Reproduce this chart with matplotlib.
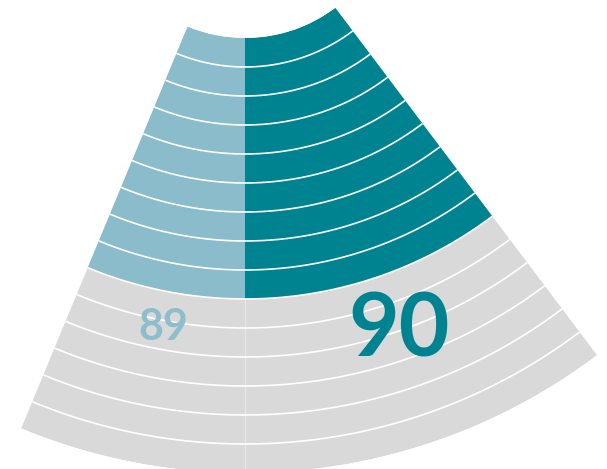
import numpy as np
import matplotlib
matplotlib.use('Agg')
import matplotlib.pyplot as plt

# === DATA ===
labels = ['89', '90']
label_colors = ['#8abccb', '#008391']
theta_spans = [(-22.5, 0.0), (0.0, 37.0)]   # degrees from the downward axis
filled_rings = [9, 9]
total_rings = 15

grey = '#d9d9d9'

# === GEOMETRY (pixels) ===
W, H = 607, 469
cx, cy = 245, -112        # centre of the fan, image coords (top-left origin)
inner_px = 150
ring_px = 29
outer_px = inner_px + total_rings * ring_px

fig = plt.figure(figsize=(W / 100, H / 100), dpi=100)
left = (cx - outer_px) / W
bottom = (H - cy - outer_px) / H
ax = fig.add_axes([left, bottom, 2 * outer_px / W, 2 * outer_px / H], projection='polar')
ax.set_theta_zero_location('S')
ax.set_ylim(0, total_rings)
ax.set_rorigin(-inner_px / ring_px)
ax.axis('off')

th_min = np.deg2rad(theta_spans[0][0])
th_max = np.deg2rad(theta_spans[-1][1])

# grey background rings
ax.bar((th_min + th_max) / 2, total_rings, width=th_max - th_min, bottom=0,
       color=grey, linewidth=0)

# coloured rings
for (a, b), n, col in zip(theta_spans, filled_rings, label_colors):
    a, b = np.deg2rad(a), np.deg2rad(b)
    ax.bar((a + b) / 2, n, width=b - a, bottom=0, color=col, linewidth=0)

# faint divider in the grey part
ax.plot([0, 0], [max(filled_rings), total_rings], color='white', lw=1, alpha=0.35)

# ring separators
th = np.linspace(th_min, th_max, 300)
for r in range(1, total_rings):
    ax.plot(th, np.full_like(th, r), color='white', lw=1.2, solid_capstyle='butt')

# labels
fig.text(163 / W, 1 - 327 / H, labels[0], color=label_colors[0], fontsize=31,
         family='Lato', weight='bold', ha='center', va='center', alpha=0.95)
fig.text(399 / W, 1 - 331 / H, labels[1], color=label_colors[1], fontsize=63,
         family='Lato', weight='bold', ha='center', va='center')

fig.savefig('out.png', dpi=100)
